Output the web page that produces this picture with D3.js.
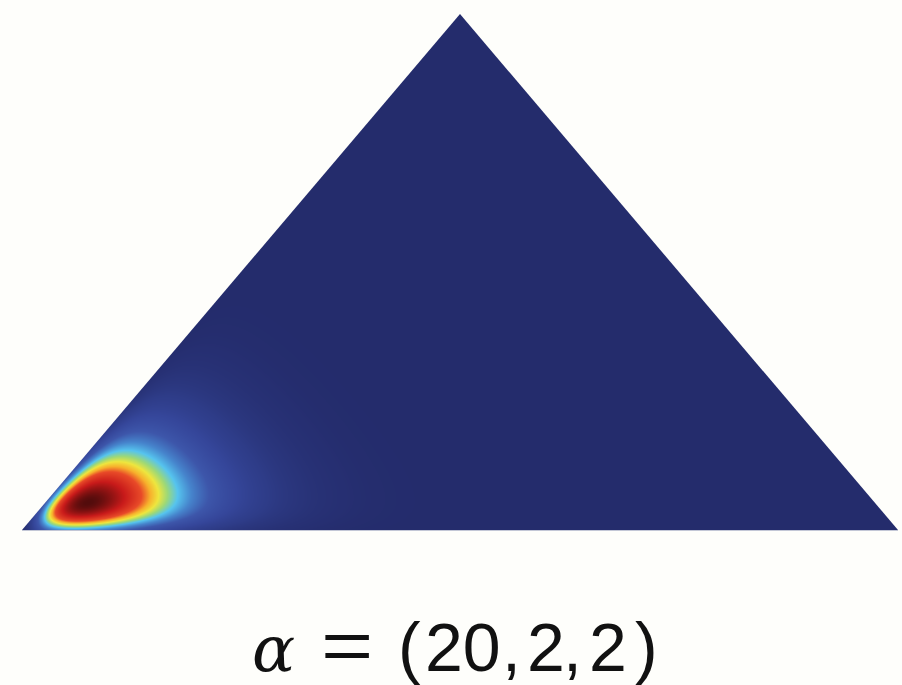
<!DOCTYPE html>
<html>
<head>
<meta charset="utf-8">
<script src="https://cdn.jsdelivr.net/npm/d3@7/dist/d3.min.js"></script>
<style>
  html, body { margin: 0; padding: 0; background: #fefefb; }
  svg { display: block; }
</style>
</head>
<body>
<div id="chart"></div>
<script>
// Dirichlet concentration parameters, one per simplex corner (left, right, top)
const alpha = [20, 2, 2];
const cornerNames = ["left", "right", "top"];
// caption pieces: symbol, relation, tuple entries
const captionSymbol = "α";
const captionRelation = "=";
const captionTuple = alpha.map(String);

const W = 902, H = 685;
const bg = "#fefefb";

// simplex layout
const baseY = 530, apexY = 14, leftX = 22, rightX = 898, apexX = 460;
const corners = {
  left: [leftX, baseY],
  right: [rightX, baseY],
  top: [apexX, apexY]
};

// barycentric coordinate of the top corner along the vertical
const x3Scale = d3.scaleLinear().domain([baseY, apexY]).range([0, 1]);

// jet-like colour map over the normalised density
const colour = d3.scaleLinear()
  .domain([0, 0.004, 0.015, 0.04, 0.09, 0.17, 0.25, 0.33, 0.4, 0.47, 0.54, 0.62, 0.78, 0.93, 1])
  .range(["#242c6c", "#262f72", "#29347a", "#2e3c88", "#35469a", "#3d56aa", "#4684cc",
          "#56c4ee", "#9cd878", "#eee63e", "#f7b02c", "#e84a28", "#c81a1a", "#7a1010", "#520c0c"])
  .interpolate(d3.interpolateRgb)
  .clamp(true);

// log density (unnormalised) of the Dirichlet distribution
function logDensity(x) {
  let s = 0;
  for (let i = 0; i < alpha.length; i++) {
    s += (alpha[i] - 1) * Math.log(Math.max(x[i], 1e-12));
  }
  return s;
}
const sumA = d3.sum(alpha);
const mode = alpha.map(a => (a - 1) / (sumA - alpha.length));
const logMax = logDensity(mode);

// evaluate the density on a pixel grid over the bounding box of the simplex
const x0 = leftX - 1, y0 = apexY - 1;
const cw = rightX - leftX + 2, ch = baseY - apexY + 2;
const L = corners.left, R = corners.right, T = corners.top;
let field = new Float32Array(cw * ch);
for (let j = 0; j < ch; j++) {
  const py = y0 + j + 0.5;
  const x3 = x3Scale(py);
  for (let i = 0; i < cw; i++) {
    const px = x0 + i + 0.5;
    const x2 = (px - x3 * T[0] - (1 - x3) * L[0]) / (R[0] - L[0]);
    const x1 = 1 - x2 - x3;
    const inside = x1 >= 0 && x2 >= 0 && x3 >= 0;
    field[j * cw + i] = inside ? Math.exp(logDensity([x1, x2, x3]) - logMax) : 0;
  }
}

// kernel smoothing of the gridded density (separable Gaussian, per axis)
function kernel(sigma) {
  const r = Math.ceil(sigma * 3);
  const k = d3.range(-r, r + 1).map(d => Math.exp(-d * d / (2 * sigma * sigma)));
  const s = d3.sum(k);
  return { r, k: k.map(v => v / s) };
}
function smooth(src, w, h, sx, sy) {
  const kx = kernel(sx), ky = kernel(sy);
  const tmp = new Float32Array(w * h), out = new Float32Array(w * h);
  for (let j = 0; j < h; j++) for (let i = 0; i < w; i++) {
    let s = 0;
    for (let d = -kx.r; d <= kx.r; d++) {
      const ii = Math.min(w - 1, Math.max(0, i + d));
      s += src[j * w + ii] * kx.k[d + kx.r];
    }
    tmp[j * w + i] = s;
  }
  for (let j = 0; j < h; j++) for (let i = 0; i < w; i++) {
    let s = 0;
    for (let d = -ky.r; d <= ky.r; d++) {
      const jj = Math.min(h - 1, Math.max(0, j + d));
      s += tmp[jj * w + i] * ky.k[d + ky.r];
    }
    out[j * w + i] = s;
  }
  return out;
}
field = smooth(field, cw, ch, 4, 9);
const fmax = d3.max(field);

const canvas = document.createElement("canvas");
canvas.width = cw; canvas.height = ch;
const ctx = canvas.getContext("2d");
const img = ctx.createImageData(cw, ch);
for (let n = 0; n < cw * ch; n++) {
  const c = d3.rgb(colour(field[n] / fmax));
  img.data[4 * n] = c.r; img.data[4 * n + 1] = c.g; img.data[4 * n + 2] = c.b; img.data[4 * n + 3] = 255;
}
ctx.putImageData(img, 0, 0);

const svg = d3.select("#chart").append("svg")
  .attr("width", W).attr("height", H)
  .style("background", bg);

svg.append("clipPath").attr("id", "simplex")
  .append("path")
  .attr("d", d3.line()(cornerNames.map(n => corners[n])) + "Z");

svg.append("image")
  .attr("href", canvas.toDataURL())
  .attr("x", x0).attr("y", y0)
  .attr("width", cw).attr("height", ch)
  .attr("preserveAspectRatio", "none")
  .attr("clip-path", "url(#simplex)");

// faint rule under the base edge
svg.append("line")
  .attr("x1", leftX).attr("x2", rightX)
  .attr("y1", baseY + 0.5).attr("y2", baseY + 0.5)
  .attr("stroke", "#c3c7d6").attr("stroke-width", 1);

// caption, typeset piece by piece
const baseline = 671;
const cap = svg.append("g").attr("fill", "#111");
cap.append("text")
  .attr("x", 252).attr("y", baseline)
  .attr("font-family", "'DejaVu Serif', serif")
  .attr("font-style", "italic")
  .attr("font-size", 64)
  .text(captionSymbol);
cap.append("text")
  .attr("x", 0).attr("y", 0)
  .attr("transform", `translate(321,${baseline - 1}) scale(1.28,1)`)
  .attr("font-family", "'Liberation Sans', Arial, sans-serif")
  .attr("font-size", 70)
  .text(captionRelation);
const tupleText = cap.append("text")
  .attr("y", baseline)
  .attr("font-family", "'Liberation Sans', Arial, sans-serif")
  .attr("font-size", 68);
// glyph runs with math-style spacing after each comma
const runs = [
  ["(", 398], [captionTuple[0], 425], [",", 502],
  [captionTuple[1], 527], [",", 563],
  [captionTuple[2], 589], [")", 635]
];
runs.forEach(([t, x]) => tupleText.append("tspan").attr("x", x).text(t));
</script>
</body>
</html>
